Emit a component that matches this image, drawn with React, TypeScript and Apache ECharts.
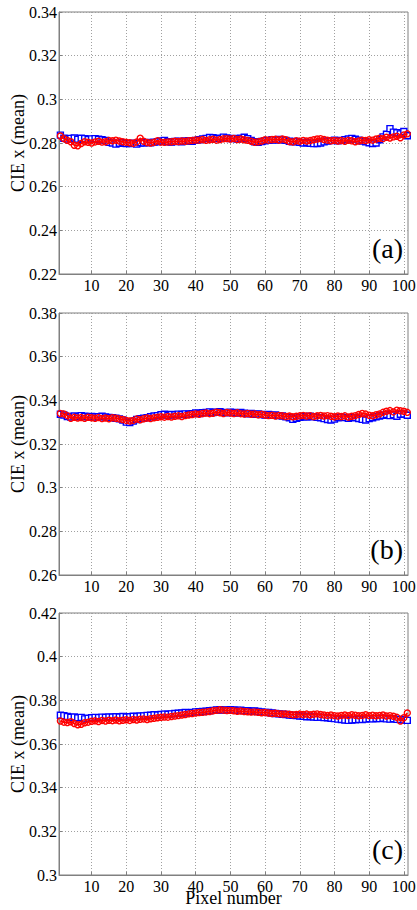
import React, { useEffect, useRef } from "react";
import * as echarts from "echarts";

const xTicks = [10, 20, 30, 40, 50, 60, 70, 80, 90, 100];
const panelLabels = ["(a)", "(b)", "(c)"];
const yMins = [0.22, 0.26, 0.3];
const yMaxs = [0.34, 0.38, 0.42];
const yTicksA = [0.22, 0.24, 0.26, 0.28, 0.3, 0.32, 0.34];
const yTicksB = [0.26, 0.28, 0.3, 0.32, 0.34, 0.36, 0.38];
const yTicksC = [0.3, 0.32, 0.34, 0.36, 0.38, 0.4, 0.42];
const yTickSets = [yTicksA, yTicksB, yTicksC];

const aBlue = [
  0.2836, 0.2822, 0.2818, 0.2821, 0.2823, 0.2817, 0.2822, 0.282, 0.2816, 0.2819,
  0.282, 0.2817, 0.2815, 0.2812, 0.2803, 0.28, 0.2795, 0.2799, 0.2801, 0.2798,
  0.2797, 0.2799, 0.2795, 0.2801, 0.28, 0.2803, 0.2801, 0.2804, 0.2806, 0.2809,
  0.2812, 0.2806, 0.2804, 0.2807, 0.2808, 0.2806, 0.2809, 0.281, 0.2808, 0.2812,
  0.2815, 0.2818, 0.2821, 0.2825, 0.2824, 0.282, 0.2822, 0.2827, 0.2823, 0.282,
  0.2821, 0.2818, 0.2822, 0.2826, 0.282, 0.2812, 0.2806, 0.2803, 0.2807, 0.281,
  0.2812, 0.2815, 0.2813, 0.2816, 0.2815, 0.2812, 0.2808, 0.2805, 0.2807, 0.2803,
  0.28, 0.2802, 0.2799, 0.2797, 0.2798, 0.28, 0.2805, 0.2809, 0.2811, 0.2813,
  0.281, 0.2812, 0.2815, 0.2818, 0.2821, 0.2817, 0.2813, 0.2809, 0.2806, 0.2801,
  0.2798, 0.28, 0.2815, 0.2828, 0.284, 0.2866, 0.285, 0.2847, 0.2842, 0.2853, 0.2833,
];
const aRed = [
  0.2832, 0.282, 0.2812, 0.2806, 0.279, 0.2787, 0.2798, 0.2806, 0.2803, 0.28,
  0.2805, 0.2808, 0.2804, 0.2806, 0.2811, 0.281, 0.2813, 0.2809, 0.2806, 0.2803,
  0.2801, 0.2799, 0.2805, 0.2822, 0.2808, 0.2802, 0.28, 0.2803, 0.281, 0.2804,
  0.2803, 0.2805, 0.2806, 0.2808, 0.2807, 0.2809, 0.2808, 0.281, 0.2812, 0.2814,
  0.2813, 0.2816, 0.2812, 0.2815, 0.2817, 0.2813, 0.2816, 0.2819, 0.282, 0.2818,
  0.2821, 0.2816, 0.2818, 0.2815, 0.2812, 0.2808, 0.2803, 0.2806, 0.2809, 0.2815,
  0.2813, 0.2816, 0.2817, 0.2814, 0.2818, 0.2815, 0.2807, 0.2805, 0.281, 0.2808,
  0.2812, 0.2809, 0.2811, 0.2815, 0.2818, 0.282, 0.2816, 0.2813, 0.281, 0.2812,
  0.2809, 0.2811, 0.2808, 0.2812, 0.281, 0.2806, 0.2809, 0.2813, 0.2811, 0.2815,
  0.2813, 0.2818, 0.2822, 0.282, 0.2826, 0.2823, 0.2828, 0.2831, 0.2824, 0.2837, 0.2842,
];
const bBlue = [
  0.3336, 0.3333, 0.3326, 0.3324, 0.3328, 0.3325, 0.333, 0.3327, 0.3324, 0.3326,
  0.3323, 0.3325, 0.3327, 0.3324, 0.3322, 0.332, 0.3318, 0.3315, 0.331, 0.33,
  0.3298, 0.3305, 0.3312, 0.3316, 0.3318, 0.3321, 0.3325, 0.3328, 0.333, 0.3334,
  0.3336, 0.3332, 0.3335, 0.3334, 0.3337, 0.3335, 0.3338, 0.3336, 0.3339, 0.3342,
  0.334, 0.3343, 0.3345, 0.3347, 0.3344, 0.3346, 0.3348, 0.3345, 0.3343, 0.3346,
  0.3344, 0.3342, 0.3345, 0.3341, 0.3338, 0.334, 0.3336, 0.3338, 0.3335, 0.3333,
  0.3335, 0.3331, 0.3333, 0.333, 0.3328, 0.3325, 0.332, 0.3313, 0.3318, 0.3322,
  0.3326, 0.3324, 0.3327, 0.3325, 0.3322, 0.332, 0.3316, 0.3312, 0.331, 0.3314,
  0.332, 0.3323, 0.3321, 0.3318, 0.332, 0.3322, 0.3317, 0.3313, 0.331, 0.3316,
  0.332, 0.3325, 0.3328, 0.3332, 0.3335, 0.333, 0.3334, 0.3327, 0.3336, 0.3338, 0.3332,
];
const bRed = [
  0.334, 0.3338, 0.333, 0.3318, 0.3322, 0.3319, 0.3321, 0.3318, 0.3322, 0.332,
  0.3318, 0.3321, 0.3317, 0.3319, 0.3316, 0.332, 0.3318, 0.3315, 0.3312, 0.3308,
  0.3305, 0.3308, 0.3314, 0.3311, 0.3316, 0.3319, 0.3317, 0.332, 0.3322, 0.3325,
  0.3323, 0.3326, 0.3324, 0.3327, 0.3329, 0.3326, 0.333, 0.3333, 0.3335, 0.3338,
  0.3336, 0.334, 0.3342, 0.3339, 0.3341, 0.3346, 0.3343, 0.334, 0.3344, 0.3342,
  0.334, 0.3343, 0.3339, 0.3337, 0.334, 0.3336, 0.3338, 0.3334, 0.3336, 0.3333,
  0.333, 0.3332, 0.3328, 0.3331, 0.3329, 0.3326, 0.3328, 0.3325, 0.3327, 0.3329,
  0.3331, 0.3328, 0.333, 0.3326, 0.3329, 0.3331, 0.3328, 0.333, 0.3327, 0.3325,
  0.3328, 0.3326, 0.3329, 0.3324, 0.3327, 0.333, 0.3335, 0.334, 0.3337, 0.3332,
  0.3329, 0.3334, 0.3338, 0.3345, 0.335, 0.3353, 0.3347, 0.3355, 0.3352, 0.335, 0.3345,
];
const cBlue = [
  0.3732, 0.373, 0.3726, 0.3722, 0.3724, 0.372, 0.3722, 0.3715, 0.3718, 0.372,
  0.3722, 0.3721, 0.3723, 0.3722, 0.3724, 0.3723, 0.3725, 0.3724, 0.3726, 0.3724,
  0.3725, 0.3727, 0.3726, 0.3728, 0.3729, 0.3731, 0.3732, 0.3734, 0.3733, 0.3735,
  0.3737, 0.3736, 0.3738, 0.374, 0.3741, 0.3742, 0.3744, 0.3743, 0.3745, 0.3747,
  0.3748, 0.3749, 0.375, 0.3752, 0.3754, 0.3756, 0.3757, 0.3755, 0.3756, 0.3757,
  0.3756, 0.3754, 0.3755, 0.3753, 0.3752, 0.375, 0.3751, 0.3749, 0.3747, 0.3745,
  0.3744, 0.3742, 0.374, 0.3738, 0.3736, 0.3735, 0.3733, 0.3731, 0.373, 0.3728,
  0.3727, 0.3725, 0.3726, 0.3724, 0.3722, 0.3723, 0.3721, 0.372, 0.3718, 0.3716,
  0.3714, 0.3712, 0.371, 0.3708, 0.371, 0.3711, 0.3713, 0.3712, 0.3714, 0.3716,
  0.3715, 0.3717, 0.3716, 0.3718, 0.3715, 0.3714, 0.3716, 0.3713, 0.3712, 0.371, 0.3708,
];
const cRed = [
  0.3705, 0.37, 0.3698, 0.3702, 0.3694, 0.3688, 0.369, 0.3697, 0.37, 0.3704,
  0.3706, 0.3703, 0.3708, 0.3705, 0.3709, 0.3707, 0.371, 0.3706, 0.3709, 0.3711,
  0.3708, 0.3712, 0.371, 0.3713, 0.3715, 0.3712, 0.3716, 0.3718, 0.372, 0.3722,
  0.3724, 0.3723, 0.3726, 0.3728, 0.373, 0.3733, 0.3735, 0.3738, 0.374, 0.3742,
  0.3744, 0.3745, 0.3747, 0.3749, 0.3752, 0.3754, 0.3757, 0.3755, 0.3753, 0.3754,
  0.3752, 0.375, 0.3751, 0.3749, 0.3748, 0.3746, 0.3747, 0.3745, 0.3743, 0.3744,
  0.3742, 0.374, 0.3741, 0.3739, 0.3737, 0.3738, 0.3736, 0.3734, 0.3735, 0.3737,
  0.3735, 0.3737, 0.3734, 0.3736, 0.3738, 0.3735, 0.3733, 0.3731, 0.3733, 0.373,
  0.3728, 0.3731, 0.3733, 0.373, 0.3734, 0.3732, 0.3729, 0.3731, 0.3734, 0.373,
  0.3732, 0.3729, 0.3731, 0.3733, 0.3728, 0.373, 0.3727, 0.3722, 0.3705, 0.372, 0.3742,
];

const blueSets = [aBlue, bBlue, cBlue];
const redSets = [aRed, bRed, cRed];

const FONT = "Liberation Serif";
const GRID_TOPS = [12, 313, 613];
const GRID_H = 262;
const X_MIN = 0.6;

export default function App() {
  const ref = useRef<HTMLDivElement>(null);
  useEffect(() => {
    if (!ref.current) return;
    const chart = echarts.init(ref.current, undefined, { renderer: "svg" });
    const grids = GRID_TOPS.map((t) => ({
      left: 59,
      right: 9,
      top: t,
      height: GRID_H,
      show: true,
      borderColor: "#808080",
      borderWidth: 1,
    }));
    const xAxes = GRID_TOPS.map((_, i) => {
      const ax: any = {
        type: "value",
        gridIndex: i,
        min: X_MIN,
        max: 101.2,
        axisTick: { inside: true, length: 3, customValues: xTicks, lineStyle: { color: "#808080" } },
        axisLabel: { show: false, customValues: xTicks },
        axisLine: { lineStyle: { color: "#808080" } },
        splitLine: { show: true, lineStyle: { color: "#a0a0a0", type: [1, 2] } },
      };
      if (i === 2) {
        ax.name = "Pixel number";
        ax.nameLocation = "middle";
        ax.nameGap = 14;
        ax.nameTextStyle = { fontFamily: FONT, fontSize: 18, color: "#000", verticalAlign: "top" };
      }
      return ax;
    });
    const yAxes = GRID_TOPS.map((_, i) => ({
      type: "value",
      gridIndex: i,
      min: yMins[i],
      max: yMaxs[i],
      interval: 0.02,
      name: "CIE x (mean)",
      nameLocation: "middle",
      nameGap: 32,
      nameTextStyle: { fontFamily: FONT, fontSize: 18, color: "#000" },
      axisLine: { show: true, lineStyle: { color: "#808080" } },
      axisTick: { show: true, inside: true, length: 3, lineStyle: { color: "#808080" } },
      axisLabel: { show: false },
      splitLine: { show: true, lineStyle: { color: "#a0a0a0", type: [1, 2] } },
    }));
    const series: any[] = [];
    GRID_TOPS.forEach((_, i) => {
      series.push({
        type: "line",
        xAxisIndex: i,
        yAxisIndex: i,
        data: blueSets[i].map((v, k) => [k + 1, v]),
        symbol: "rect",
        symbolSize: 6,
        showAllSymbol: true,
        lineStyle: { color: "#0000ff", width: 1.6 },
        itemStyle: { color: "#ffffff", borderColor: "#0000ff", borderWidth: 1.4 },
        z: 2,
      });
      series.push({
        type: "line",
        xAxisIndex: i,
        yAxisIndex: i,
        data: redSets[i].map((v, k) => [k + 1, v]),
        symbol: "circle",
        symbolSize: 6,
        showAllSymbol: true,
        lineStyle: { color: "#ff0000", width: 1.6 },
        itemStyle: { color: "rgba(255,255,255,0)", borderColor: "#ff0000", borderWidth: 1.4 },
        z: 3,
      });
    });
    const panelText = GRID_TOPS.map((t, i) => ({
      type: "text",
      right: 14,
      top: t + 222,
      style: { text: panelLabels[i], font: `28px ${FONT}`, fill: "#000" },
      z: 10,
    }));
    chart.setOption({
      animation: false,
      backgroundColor: "#fff",
      grid: grids,
      xAxis: xAxes,
      yAxis: yAxes,
      series,
      graphic: panelText,
    });

    // tick labels placed through the axes' own scales
    const tickTexts: any[] = [];
    GRID_TOPS.forEach((_, i) => {
      const finder = { xAxisIndex: i, yAxisIndex: i };
      yTickSets[i].forEach((v) => {
        const p = chart.convertToPixel(finder, [X_MIN, v]) as number[];
        tickTexts.push({
          type: "text",
          x: p[0] - 2,
          y: p[1],
          style: {
            text: String(Number(v.toFixed(2))),
            font: `16px ${FONT}`,
            fill: "#000",
            align: "right",
            verticalAlign: "middle",
          },
          z: 10,
        });
      });
      xTicks.forEach((t) => {
        const p = chart.convertToPixel(finder, [t, yMins[i]]) as number[];
        tickTexts.push({
          type: "text",
          x: p[0],
          y: p[1] + 11,
          style: {
            text: String(t),
            font: `16px ${FONT}`,
            fill: "#000",
            align: "center",
            verticalAlign: "middle",
          },
          z: 10,
        });
      });
    });
    chart.setOption({ graphic: [...panelText, ...tickTexts] });
    return () => chart.dispose();
  }, []);
  return (
    <div
      ref={ref}
      style={{ position: "fixed", left: 0, top: 0, width: 417, height: 910, background: "#fff" }}
    />
  );
}
